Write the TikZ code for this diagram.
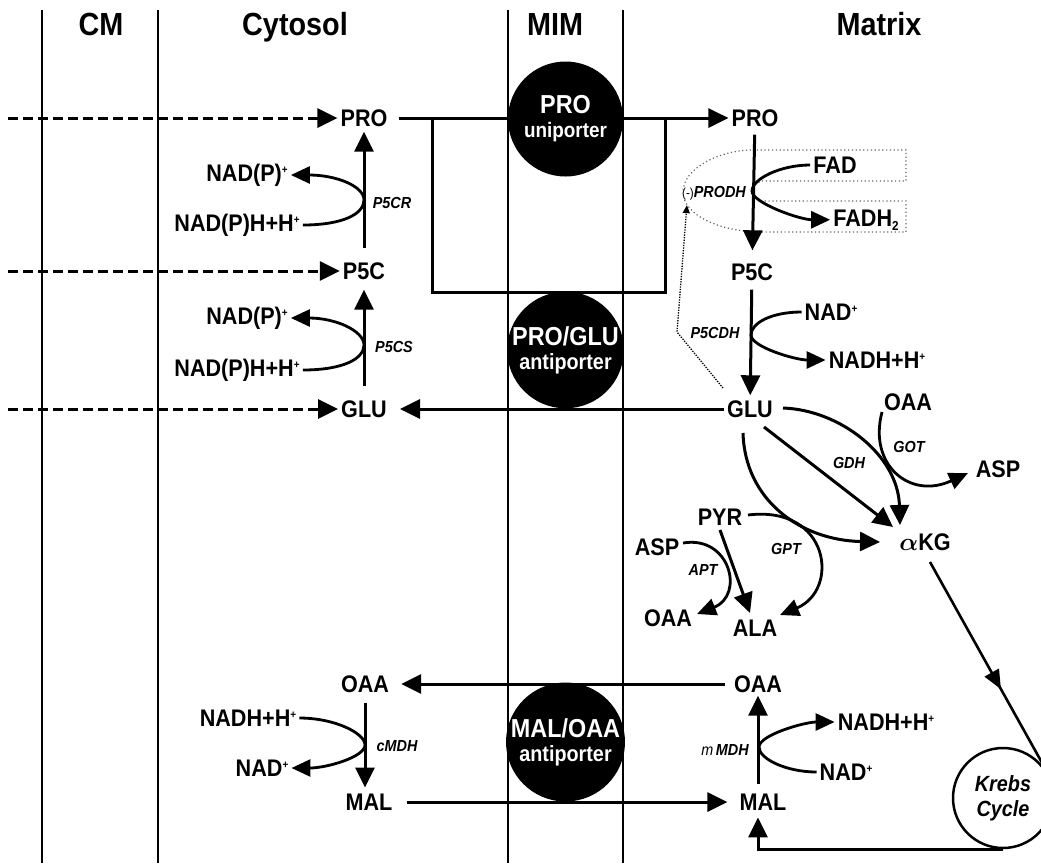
\documentclass[tikz,border=0pt]{standalone}
\usepackage{fontspec}
\setmainfont{Liberation Sans}
\newfontfamily\condf{Liberation Sans}[FakeStretch=0.9]
\usetikzlibrary{arrows.meta,calc,decorations.markings}
\newcommand\plusup{\raisebox{8pt}{\fontsize{11}{11}\selectfont +}}
\newcommand\twodn{\raisebox{-4pt}{\fontsize{13}{13}\selectfont 2}}
\begin{document}
\begin{tikzpicture}[x=1pt,y=-1pt,
 lab/.style={font=\condf\fontsize{24}{24}\selectfont\bfseries, inner sep=3pt},
 enz/.style={font=\condf\fontsize{16}{16}\selectfont\bfseries\itshape, inner sep=1pt},
 hdr/.style={font=\condf\fontsize{32}{32}\selectfont\bfseries, anchor=base},
 memb/.style={line width=2pt},
 arr/.style={line width=3pt, -{Triangle[length=20pt,width=19pt]}},
 darr/.style={arr, dash pattern=on 10pt off 5pt},
 side/.style={line width=2.8pt, -{Triangle[length=19pt,width=17pt]}},
 boxline/.style={line width=3pt},
 plainline/.style={line width=2.6pt},
 dotgray/.style={line width=1.2pt, black!60, dash pattern=on 1.2pt off 2.6pt},
 dotarr/.style={line width=1.3pt, dash pattern=on 1.3pt off 1.3pt, -{Triangle[length=8pt,width=7pt]}},
 tport/.style={circle, fill=black, minimum size=115pt, inner sep=0pt, text=white, align=center, font=\condf\fontsize{26}{27}\selectfont\bfseries},
 krebsnode/.style={circle, draw, fill=white, line width=2.5pt, minimum size=100pt, inner sep=0pt, align=center, font=\condf\fontsize{22}{25}\selectfont\bfseries\itshape}
]
\useasboundingbox (0,0) rectangle (1041,863);
% membranes
\draw[memb] (42,10) -- (42,863);
\draw[memb] (158,10) -- (158,863);
\draw[memb] (508,10) -- (508,863);
\draw[memb] (623,10) -- (623,863);
% headers
\node[hdr] (hCM) at (101,35) {CM};
\node[hdr] (hCy) at (295,35) {Cytosol};
\node[hdr] (hMIM) at (555,35) {MIM};
\node[hdr] (hMat) at (879,35) {Matrix};
% cytosol nodes
\node[lab] (PROc) at (364,118) {PRO};
\node[lab] (P5Cc) at (364,271) {P5C};
\node[lab] (GLUc) at (364,409) {GLU};
\node[lab] (nadpA) at (247,175) {NAD(P)\plusup};
\node[lab] (nadphA) at (237,225) {NAD(P)H+H\plusup};
\node[lab] (nadpB) at (247,318) {NAD(P)\plusup};
\node[lab] (nadphB) at (237,370) {NAD(P)H+H\plusup};
\node[enz] (p5cr) at (392,203) {P5CR};
\node[enz] (p5cs) at (394,347) {P5CS};
\node[lab] (OAAc) at (365,684) {OAA};
\node[lab] (MALc) at (369,802) {MAL};
\node[lab] (nadhC) at (248,718) {NADH+H\plusup};
\node[lab] (nadC) at (262,768) {NAD\plusup};
\node[enz] (cmdh) at (397,746) {cMDH};
% matrix nodes
\node[lab] (PROm) at (755,118) {PRO};
\node[lab] (P5Cm) at (752,272) {P5C};
\node[lab] (GLUm) at (750,409) {GLU};
\node[lab] (FAD) at (835,165) {FAD};
\node[lab, anchor=base] (FADH) at (866,226) {FADH\twodn};
\node[lab] (NADm1) at (831,312) {NAD\plusup};
\node[lab] (NADHm1) at (877,360) {NADH+H\plusup};
\node[enz, anchor=east] (prodh) at (747,193) {{\fontsize{13}{13}\selectfont\mdseries\upshape(-)}PRODH};
\node[enz] (p5cdh) at (715,333) {P5CDH};
\node[lab] (OAAt) at (908,402) {OAA};
\node[enz] (got) at (909,447) {GOT};
\node[lab] (ASPr) at (998,469) {ASP};
\node[enz] (gdh) at (849,463) {GDH};
\node[lab] (aKG) at (925,542) {{\boldmath$\alpha$}KG};
\node[lab] (PYR) at (720,517) {PYR};
\node[lab] (ASPl) at (657,547) {ASP};
\node[enz] (apt) at (703,570) {APT};
\node[enz] (gpt) at (786,549) {GPT};
\node[lab] (OAAl) at (668,618) {OAA};
\node[lab] (ALA) at (755,628) {ALA};
\node[lab] (OAAm) at (758,684) {OAA};
\node[lab] (MALm) at (763,802) {MAL};
\node[lab] (NADHm2) at (886,722) {NADH+H\plusup};
\node[lab] (NADm2) at (846,772) {NAD\plusup};
\node[enz] (mmdh) at (725,750) {{\mdseries m}\,MDH};
% dashed inputs
\coordinate (dA) at (8,118);
\coordinate (dB) at (8,271);
\coordinate (dC) at (8,409);
\draw[darr] (dA) -- (PROc.west);
\draw[darr] (dB) -- (P5Cc.west);
\draw[darr] (dC) -- (GLUc.west);
% cytosol pathway
\draw[arr, shorten <=11pt, shorten >=2pt] (P5Cc) -- (PROc);
\draw[arr, shorten <=11pt, shorten >=7pt] (GLUc) -- (P5Cc);
\draw[side] (nadphA.east) .. controls +(40,0) and +(0,14) .. (364,200) .. controls +(0,-14) and +(45,0) .. (nadpA.east);
\draw[side] (nadphB.east) .. controls +(40,0) and +(0,14) .. (364,345) .. controls +(0,-14) and +(45,0) .. (nadpB.east);
\draw[arr, shorten <=7pt, shorten >=3pt] (OAAc) -- (MALc.north -| OAAc);
\draw[side] (nadhC.east) .. controls +(35,0) and +(0,-12) .. (365,745) .. controls +(0,12) and +(35,0) .. (nadC.east);
% box
\draw[boxline] (432,118) -- (432,292) -- (665,292) -- (665,118);
% transport lines
\draw[arr, shorten <=8pt] (PROc.east) -- (PROm.west);
\draw[arr, shorten >=10pt] (GLUm.west) -- (GLUc.east);
\draw[arr, shorten <=6pt, shorten >=9pt] (OAAm.west) -- (OAAc.east);
\draw[arr, shorten <=11pt, shorten >=9pt] (MALc.east) -- (MALm.west);
% dotted PRODH region
\draw[dotgray] (753,150) -- (906,150) -- (906,181) -- (762,181)
  .. controls (755,183) and (752,187) .. (752,191)
  .. controls (752,195) and (755,199) .. (762,201) -- (906,201) -- (906,232) -- (762,232)
  .. controls (720,232) and (683,215) .. (683,192)
  .. controls (683,168) and (720,150) .. (753,150);
% matrix pathway
\draw[arr, shorten <=5pt, shorten >=10pt] (PROm) -- (P5Cm);
\draw[arr, shorten <=6pt, shorten >=2pt] (P5Cm) -- (GLUm);
\draw[side] (FAD.west) .. controls +(-30,0) and +(0,-12) .. (752,191) .. controls +(0,12) and +(-30,0) .. (FADH.west);
\draw[side] (NADm1.west) .. controls +(-30,0) and +(0,-12) .. (751,335) .. controls +(0,12) and +(-30,0) .. (NADHm1.west);
\draw[dotarr] ($(GLUm)+(-27,-21)$) -- (677,332) -- ($(prodh.south west)+(6,4)$);
% GLU reactions
\draw[arr] ($(GLUm)+(14,18)$) -- ($(aKG)+(-32,-15)$);
\draw[arr] ($(GLUm)+(33,-1)$) .. controls (840,410) and (898,455) .. ($(aKG)+(-25,-17)$);
\draw[arr] ($(GLUm)+(-7,24)$) .. controls (745,500) and (800,540) .. ($(aKG)+(-45,0)$);
\draw[side] ($(OAAt)+(-26,10)$) .. controls (868,465) and (910,500) .. ($(ASPr)+(-30,4)$);
\draw[side] ($(PYR)+(28,-2)$) .. controls (830,505) and (840,590) .. ($(ALA)+(25,-13)$);
\draw[arr] ($(PYR)+(0,13)$) -- ($(ALA)+(-5,-15)$);
\draw[side] ($(ASPl)+(26,-4)$) .. controls (730,535) and (745,595) .. ($(OAAl)+(29,-4)$);
% bottom matrix
\draw[arr, shorten <=7pt] (MALm.north -| OAAm) -- (OAAm.south);
\draw[side] (NADm2.west) .. controls +(-30,0) and +(0,12) .. (759,747) .. controls +(0,-12) and +(-30,0) .. (NADHm2.west);
% transporters
\node[tport] (uni) at (565.5,119) {PRO\\[-3pt]{\fontsize{21}{21}\selectfont uniporter}};
\node[tport] (anti1) at (565.5,350) {PRO/GLU\\[-3pt]{\fontsize{22}{22}\selectfont antiporter}};
\node[tport] (anti2) at (565.5,742) {MAL/OAA\\[-3pt]{\fontsize{22}{22}\selectfont antiporter}};
% Krebs
\node[krebsnode] (krebs) at (1003,798) {Krebs\\Cycle};
\draw[plainline, postaction={decorate, decoration={markings, mark=at position 0.6 with {\arrow{Triangle[length=19pt,width=16pt]}}}}] ($(aKG)+(5,20)$) -- (krebs.28);
\draw[arr] (krebs.south) -| ([yshift=-4pt]MALm.south -| OAAm);
\end{tikzpicture}
\end{document}
